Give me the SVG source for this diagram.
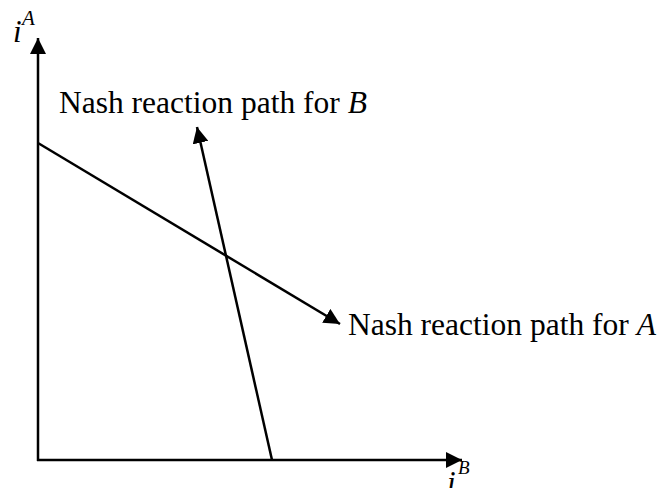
<svg xmlns="http://www.w3.org/2000/svg" width="662" height="488" viewBox="0 0 662 488">
<style>
.ln{stroke:#000;stroke-width:2.5;fill:none}
.t{font-family:"Liberation Serif","Times New Roman",serif;font-size:31.5px;fill:#000}
.it{font-style:italic}
</style>
<defs>
<marker id="ah" markerUnits="userSpaceOnUse" markerWidth="18" markerHeight="16" refX="16" refY="8" orient="auto">
<path d="M0,0 L16,8 L0,16 Z" fill="#000"/>
</marker>
</defs>
<rect width="662" height="488" fill="#fff"/>
<g id="connectors">
<line id="axis-y" class="ln" x1="38" y1="461" x2="38" y2="38" marker-end="url(#ah)"/>
<line id="axis-x" class="ln" x1="37" y1="460" x2="462" y2="460" marker-end="url(#ah)"/>
<line id="path-a" class="ln" x1="38" y1="143" x2="340" y2="324" marker-end="url(#ah)"/>
<line id="path-b" class="ln" x1="272" y1="460" x2="197" y2="127" marker-end="url(#ah)"/>
</g>
<g id="label-iA"><text class="t it" x="13" y="42" style="font-size:31px">i</text><text class="t it" x="22" y="25" style="font-size:21px">A</text></g>
<g id="label-iB"><text class="t it" x="447" y="493" style="font-size:31px">i</text><text class="t it" x="458" y="474" style="font-size:19px">B</text></g>
<g id="label-b"><text class="t" x="59" y="113">Nash reaction path for <tspan class="it">B</tspan></text></g>
<g id="label-a"><text class="t" x="348" y="335">Nash reaction path for <tspan class="it">A</tspan></text></g>
</svg>
